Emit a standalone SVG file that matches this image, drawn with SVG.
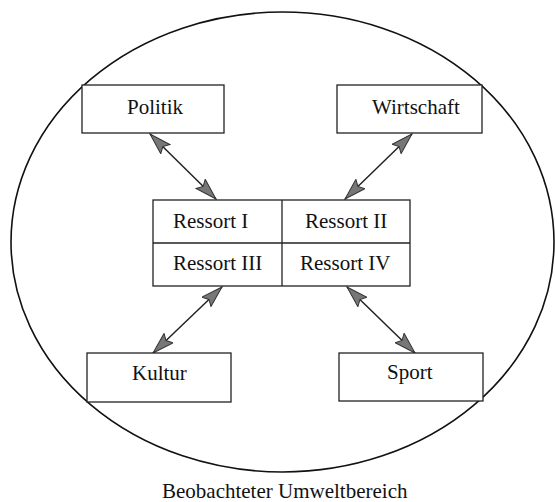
<svg xmlns="http://www.w3.org/2000/svg" width="555" height="502" viewBox="0 0 555 502">
<style>
.box{fill:#fff;stroke:#222;stroke-width:1.3}
.t{font-family:"Liberation Serif","Times New Roman",serif;font-size:21px;fill:#111}
.con{stroke:#222;stroke-width:1.5;fill:none;marker-start:url(#ah);marker-end:url(#ah)}
</style>
<defs>
<marker id="ah" markerUnits="userSpaceOnUse" markerWidth="24" markerHeight="14" refX="22" refY="7" orient="auto-start-reverse" viewBox="0 0 24 14">
<path d="M0.5,0.5 L22,7 L0.5,13.5 L4,7 z" fill="#777" stroke="#333" stroke-width="1"/>
</marker>
</defs>
<rect width="555" height="502" fill="#fff"/>
<g id="umwelt">
<ellipse cx="282.5" cy="242" rx="271.5" ry="230" fill="none" stroke="#111" stroke-width="1.6"/>
<text class="t" x="162" y="498">Beobachteter Umweltbereich</text>
</g>
<g id="connectors">
<line class="con" x1="150" y1="134" x2="216" y2="199"/>
<line class="con" x1="412" y1="134" x2="345" y2="199"/>
<line class="con" x1="222" y1="287" x2="153" y2="353"/>
<line class="con" x1="347" y1="287" x2="415" y2="353"/>
</g>
<g id="politik">
<rect class="box" x="82" y="85" width="142" height="48"/>
<text class="t" x="127" y="114">Politik</text>
</g>
<g id="wirtschaft">
<rect class="box" x="337" y="85" width="145" height="48"/>
<text class="t" x="372" y="114">Wirtschaft</text>
</g>
<g id="ressorts">
<rect class="box" x="153" y="200" width="257" height="86"/>
<line x1="282" y1="200" x2="282" y2="286" stroke="#222" stroke-width="1.3"/>
<line x1="153" y1="243" x2="410" y2="243" stroke="#222" stroke-width="1.3"/>
<text class="t" x="173" y="228">Ressort I</text>
<text class="t" x="305" y="228">Ressort II</text>
<text class="t" x="173" y="270">Ressort III</text>
<text class="t" x="300" y="270">Ressort IV</text>
</g>
<g id="kultur">
<rect class="box" x="87" y="353" width="144" height="49"/>
<text class="t" x="132" y="380">Kultur</text>
</g>
<g id="sport">
<rect class="box" x="339" y="353" width="144" height="48"/>
<text class="t" x="387" y="379">Sport</text>
</g>
</svg>
